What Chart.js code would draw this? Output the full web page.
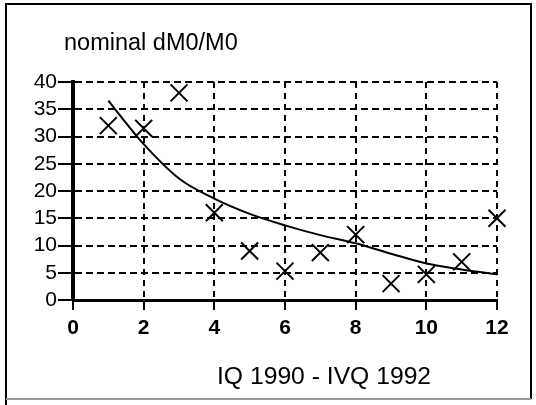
<!DOCTYPE html>
<html>
<head>
<meta charset="utf-8">
<script src="https://cdn.jsdelivr.net/npm/chart.js@4/dist/chart.umd.min.js"></script>
<style>
  html, body { margin: 0; padding: 0; background: #fff; }
  #wrap { position: relative; width: 536px; height: 405px; }
</style>
</head>
<body>
<div id="wrap"><canvas id="c" width="536" height="405"></canvas></div>
<script>
// ---- data ----
const chartTitle = 'nominal dM0/M0';
const xAxisTitle = 'IQ 1990 - IVQ 1992';
const quarters = [1, 2, 3, 4, 5, 6, 7, 8, 9, 10, 11, 12];
const growth   = [32, 31.5, 38, 16, 9, 5.3, 8.7, 12, 3, 4.7, 7, 15];
const trendX   = [1, 1.5, 2, 3, 4, 5, 6, 7, 8, 9, 10, 11, 12];
const trendY   = [36.6, 32.5, 28.6, 22.3, 18.6, 15.8, 13.7, 11.9, 10.4, 8.5, 6.7, 5.6, 4.7];
const xTicks   = [0, 2, 4, 6, 8, 10, 12];
const yTicks   = [0, 5, 10, 15, 20, 25, 30, 35, 40];

const pointData = quarters.map((q, i) => ({ x: q, y: growth[i] }));
const trendData = trendX.map((q, i) => ({ x: q, y: trendY[i] }));

const FONT = '"Liberation Sans", Arial, sans-serif';

const frameAndText = {
  id: 'frameAndText',
  afterDraw(chart) {
    const ctx = chart.ctx;
    ctx.save();
    // outer frame
    ctx.lineWidth = 2;
    ctx.strokeStyle = '#000';
    ctx.beginPath();
    ctx.moveTo(6, 405); ctx.lineTo(6, 4); ctx.lineTo(531, 4); ctx.lineTo(531, 399);
    ctx.stroke();
    ctx.strokeStyle = '#9a9a9a';
    ctx.beginPath();
    ctx.moveTo(6, 399); ctx.lineTo(531, 399);
    ctx.stroke();
    // texts
    ctx.fillStyle = '#000';
    ctx.textBaseline = 'alphabetic';
    ctx.textAlign = 'left';
    ctx.font = '23.5px ' + FONT;
    ctx.fillText(chartTitle, 64, 50);
    ctx.font = '24.7px ' + FONT;
    ctx.fillText(xAxisTitle, 217, 384);
    ctx.restore();
  }
};

new Chart(document.getElementById('c'), {
  type: 'scatter',
  data: {
    datasets: [
      {
        label: 'dM0/M0',
        data: pointData,
        showLine: false,
        clip: false,
        pointStyle: 'crossRot',
        pointRadius: 12,
        pointHoverRadius: 12,
        borderColor: '#000',
        backgroundColor: '#000',
        borderWidth: 2
      },
      {
        label: 'trend',
        data: trendData,
        showLine: true,
        clip: false,
        pointRadius: 0,
        borderColor: '#000',
        borderWidth: 2,
        cubicInterpolationMode: 'monotone',
        fill: false
      }
    ]
  },
  options: {
    responsive: false,
    animation: false,
    events: [],
    layout: { padding: { left: 10, top: 82, right: 39, bottom: 65 } },
    plugins: {
      legend: { display: false },
      title: { display: false },
      tooltip: { enabled: false }
    },
    scales: {
      x: {
        type: 'linear',
        min: 0, max: 12,
        afterBuildTicks(scale) { scale.ticks = xTicks.map(v => ({ value: v })); },
        afterFit(scale) { scale.height = 40; },
        grid: {
          color: '#000', lineWidth: 2, tickLength: 10,
          tickColor: '#000', tickWidth: 2, tickBorderDash: []
        },
        border: { display: true, color: '#000', width: 3, dash: [6, 5] },
        ticks: {
          color: '#000', padding: 6, maxRotation: 0, autoSkip: false,
          font: { family: FONT, size: 21, weight: 'bold' }
        }
      },
      y: {
        type: 'linear',
        min: 0, max: 40,
        afterBuildTicks(scale) { scale.ticks = yTicks.map(v => ({ value: v })); },
        afterFit(scale) { scale.width = 63; },
        grid: {
          color: '#000', lineWidth: 2, tickLength: 15,
          tickColor: '#000', tickWidth: 2, tickBorderDash: []
        },
        border: { display: true, color: '#000', width: 4, dash: [7, 4] },
        ticks: {
          color: '#000', padding: 1, autoSkip: false,
          font: { family: FONT, size: 21 }
        }
      }
    }
  },
  plugins: [frameAndText]
});
</script>
</body>
</html>
